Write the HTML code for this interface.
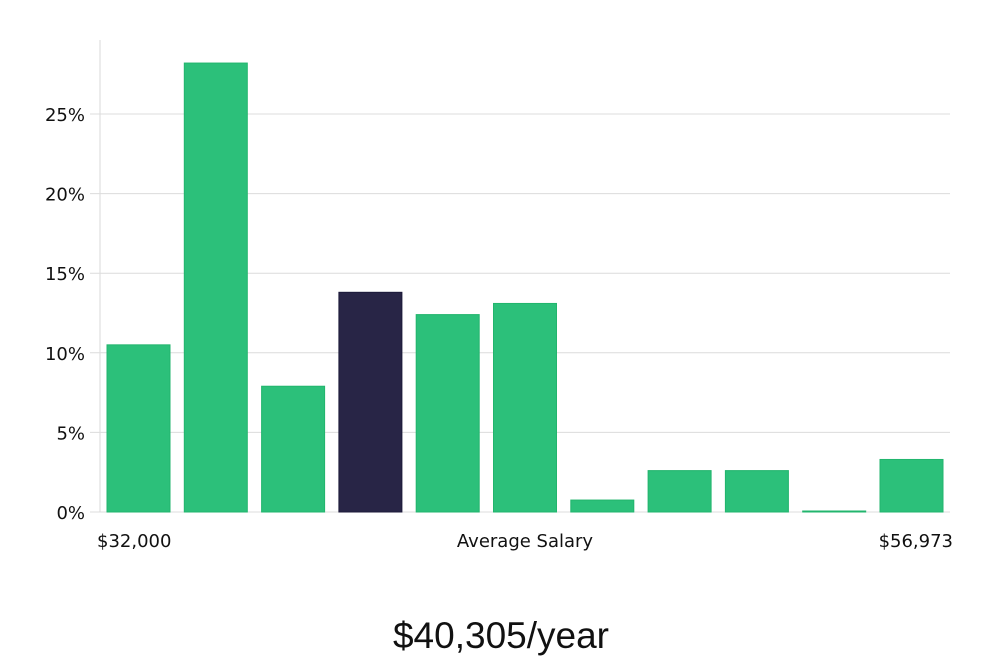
<!DOCTYPE html>
<html><head><meta charset="utf-8"><style>
html,body{margin:0;padding:0;background:#fff;width:1000px;height:660px;overflow:hidden}
svg text{font-family:"DejaVu Sans","Liberation Sans",sans-serif}
</style></head><body>
<svg id="chart" width="1000" height="660" xmlns="http://www.w3.org/2000/svg">
<g id="grid"></g><g id="bars"></g><g id="labels"></g>
<text x="97" y="547" font-size="18" fill="#111">$32,000</text>
<text x="525" y="547" font-size="18" fill="#111" text-anchor="middle">Average Salary</text>
<text x="953" y="547" font-size="18" fill="#111" text-anchor="end">$56,973</text>
<text x="501" y="648" font-size="37" fill="#111" text-anchor="middle" style="font-family:'Liberation Sans',sans-serif">$40,305/year</text>
</svg>
<script>
const values=[10.5,28.2,7.9,13.8,12.4,13.1,0.75,2.6,2.6,0.05,3.3];
const highlightIndex=3;
const tickValues=[0,5,10,15,20,25];
const tickLabels=["0%","5%","10%","15%","20%","25%"];
const NS="http://www.w3.org/2000/svg";
const y0=512,pxPer=15.92,left=100,right=950;
const y=v=>y0-v*pxPer;
const x=i=>107+i*77.3;
const grid=document.getElementById('grid'),bars=document.getElementById('bars'),labels=document.getElementById('labels');
const ax=document.createElementNS(NS,'line');


ax.setAttribute('x1',left);ax.setAttribute('x2',left);ax.setAttribute('y1',40);ax.setAttribute('y2',y0);
ax.setAttribute('stroke','#d8d8d8');grid.appendChild(ax);
tickValues.forEach((t,i)=>{
 const l=document.createElementNS(NS,'line');
 
 
 l.setAttribute('x1',90);l.setAttribute('x2',right);l.setAttribute('y1',y(t));l.setAttribute('y2',y(t));
 l.setAttribute('stroke','#dcdcdc');grid.appendChild(l);
 const tx=document.createElementNS(NS,'text');
 
 
 tx.setAttribute('x',85);tx.setAttribute('y',y(t)+7);tx.setAttribute('text-anchor','end');
 tx.setAttribute('font-size','18');tx.setAttribute('fill','#111');tx.textContent=tickLabels[i];labels.appendChild(tx);
});
values.forEach((v,i)=>{
 const r=document.createElementNS(NS,'rect');
 
 
 const h=Math.max(v*pxPer,1);
 r.setAttribute('x',x(i));r.setAttribute('y',y0-h);r.setAttribute('width',63);r.setAttribute('height',h);
 const hi=i===highlightIndex;
 r.setAttribute('fill',hi?'#282546':'#2cc07a');
 r.setAttribute('stroke',hi?'#1c1a3a':'#22b56d');r.setAttribute('stroke-width','1');
 bars.appendChild(r);
});
</script>
</body></html>
